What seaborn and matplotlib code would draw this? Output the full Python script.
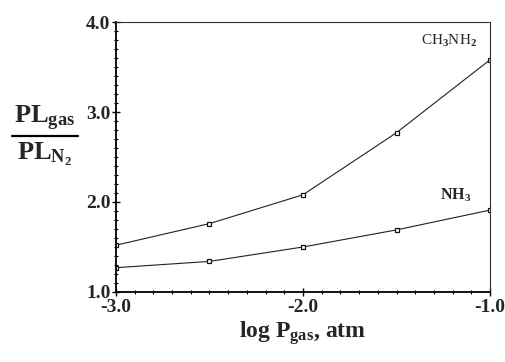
import numpy as np
import pandas as pd
import matplotlib
matplotlib.use('Agg')
import matplotlib.pyplot as plt
from matplotlib.ticker import MultipleLocator, FixedLocator, FixedFormatter
from matplotlib.lines import Line2D
import seaborn as sns

# data
log_p = [-3.0, -2.5, -2.0, -1.5, -1.0]
ch3nh2 = [1.52, 1.76, 2.08, 2.77, 3.58]
nh3 = [1.27, 1.34, 1.50, 1.69, 1.91]
x_ticks = [-3.0, -2.0, -1.0]
x_ticklabels = ['-3.0', '-2.0', '-1.0']
y_ticks = [1.0, 2.0, 3.0, 4.0]
y_ticklabels = ['1.0', '2.0', '3.0', '4.0']

df = pd.DataFrame({
    'log_p': log_p * 2,
    'ratio': ch3nh2 + nh3,
    'gas': ['CH3NH2'] * 5 + ['NH3'] * 5,
})

sns.set_style('ticks')
plt.rcParams['font.family'] = ['Liberation Serif', 'DejaVu Serif']
plt.rcParams['font.weight'] = 'bold'
plt.rcParams['mathtext.fontset'] = 'custom'
plt.rcParams['mathtext.rm'] = 'Liberation Serif:bold'
plt.rcParams['mathtext.it'] = 'Liberation Serif:bold'
plt.rcParams['mathtext.bf'] = 'Liberation Serif:bold'

fig = plt.figure(figsize=(5.05, 3.62), dpi=100)
ax = fig.add_axes([0.2297, 0.1934, 0.7406, 0.7458])

sns.lineplot(data=df, x='log_p', y='ratio', hue='gas', palette=['#222222', '#222222'],
             marker='s', markersize=3.5, markerfacecolor='white', markeredgecolor='#111111',
             markeredgewidth=0.9, linewidth=0.8, legend=False, ax=ax)

ax.set_xlim(-3.0, -1.0)
ax.set_ylim(1.0, 4.0)
ax.xaxis.set_major_locator(FixedLocator(x_ticks))
ax.xaxis.set_major_formatter(FixedFormatter(x_ticklabels))
ax.yaxis.set_major_locator(FixedLocator(y_ticks))
ax.yaxis.set_major_formatter(FixedFormatter(y_ticklabels))
ax.xaxis.set_minor_locator(MultipleLocator(0.1))
ax.yaxis.set_minor_locator(MultipleLocator(0.1))
ax.tick_params(which='major', direction='inout', length=6, width=1.0, labelsize=14, pad=1, color='black')
ax.tick_params(which='minor', direction='inout', length=3.5, width=0.8, color='black')
ax.tick_params(axis='x', pad=2)

for side in ['left', 'bottom']:
    ax.spines[side].set_linewidth(1.3)
    ax.spines[side].set_color('black')
for side in ['top', 'right']:
    ax.spines[side].set_visible(True)
    ax.spines[side].set_linewidth(0.8)
    ax.spines[side].set_color('#333333')

ax.set_xlabel('log P$_{\\rm gas}$, atm', fontsize=17, fontweight='bold', labelpad=2)
ax.set_ylabel('')

ax.text(-1.37, 3.75, 'CH$_3$NH$_2$', fontsize=11, fontweight='normal')
ax.text(-1.27, 2.03, 'NH$_3$', fontsize=11.5, fontweight='bold')

# y label as a stacked fraction
fig.text(0.089, 0.632, 'PL$_{\\rm gas}$', fontsize=19, ha='center', va='bottom')
fig.add_artist(Line2D([0.024, 0.155], [0.624, 0.624], color='black', linewidth=1.6,
                      transform=fig.transFigure))
fig.text(0.089, 0.612, 'PL$_{\\rm N_2}$', fontsize=19, ha='center', va='top')

fig.savefig('out.png', dpi=100, facecolor='white')
